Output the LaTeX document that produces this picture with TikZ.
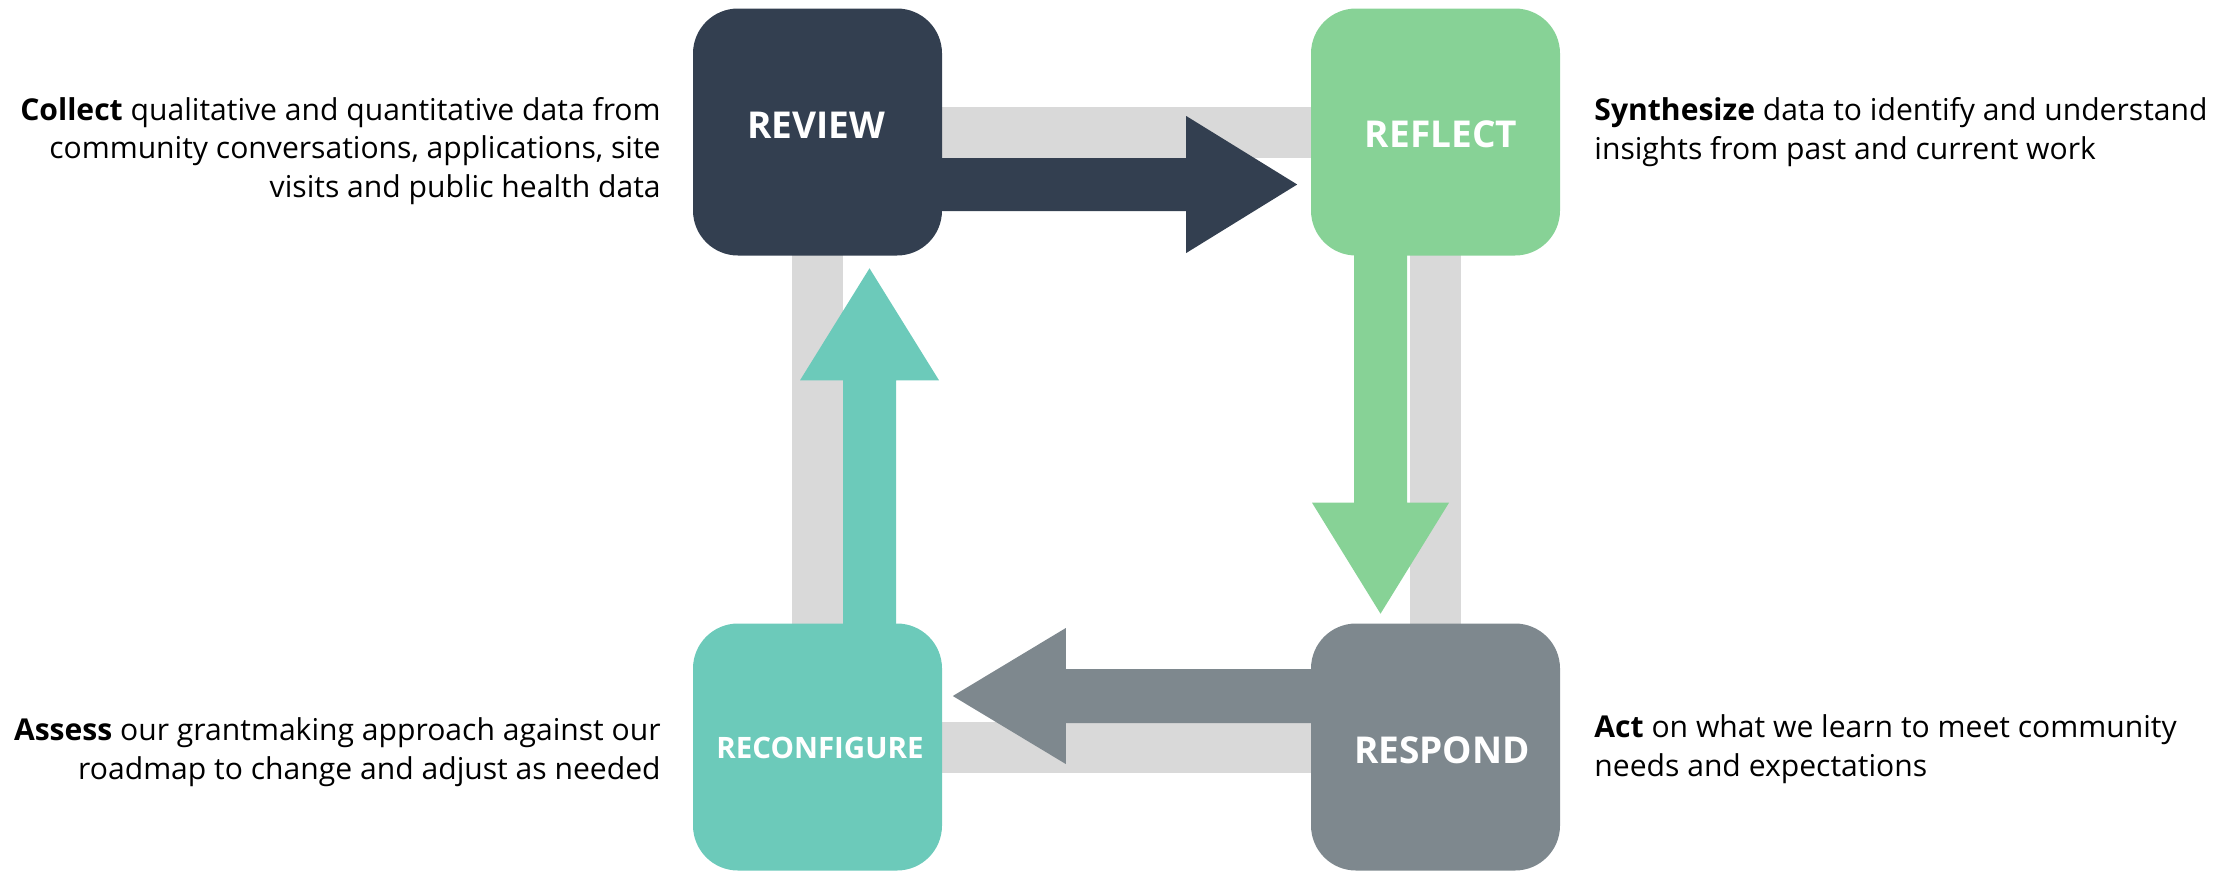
\documentclass[tikz,border=0pt]{standalone}
\usepackage{fontspec}
\setmainfont{Open Sans}
\usetikzlibrary{calc}
\definecolor{navy}{HTML}{333F50}
\definecolor{leaf}{HTML}{87D296}
\definecolor{slate}{HTML}{7E888E}
\definecolor{aqua}{HTML}{6CCABA}
\definecolor{ringgray}{HTML}{D9D9D9}
\pgfdeclarelayer{back}
\pgfsetlayers{back,main}
\begin{document}
\begin{tikzpicture}[x=1pt,y=-1pt,
  box/.style={rounded corners=45pt, minimum width=249pt, minimum height=247pt, inner sep=0pt, draw=none},
  lbl/.style={text=white, inner sep=0pt, font=\bfseries\fontsize{37}{40}\selectfont},
  smalllbl/.style={text=white, inner sep=0pt, font=\bfseries\fontsize{29.5}{32}\selectfont},
  desc/.style={text=black, inner sep=0pt, font=\fontsize{30.1}{38.5}\selectfont},
  ring/.style={line width=51pt, draw=ringgray, line join=miter}]
\useasboundingbox (0,0) rectangle (2234,871);

% boxes
\node[box, fill=navy]  (review)  at (817.5,132)   {};
\node[box, fill=leaf]  (reflect) at (1435.5,132)  {};
\node[box, fill=slate] (respond) at (1435.5,747)  {};
\node[box, fill=aqua]  (reconf)  at (817.5,747)   {};

% box labels
\node[lbl]      (lreview)  at ($(review.center)+(-1.5,-7)$)  {REVIEW};
\node[lbl]      (lreflect) at ($(reflect.center)+(5.5,2)$)   {REFLECT};
\node[lbl]      (lrespond) at ($(respond.center)+(6.5,3)$)   {RESPOND};
\node[smalllbl] (lreconf)  at ($(reconf.center)+(2.5,1)$)    {RECONFIGURE};

\begin{pgfonlayer}{back}
  % grey ring
  \draw[ring] (review.center) -- (reflect.center) -- (respond.center) -- (reconf.center) -- cycle;
  % REVIEW -> REFLECT
  \fill[navy] ($(review.east)+(-4,26)$) -- ++(248,0) -- ++(0,-42) -- ++(111,68.5) -- ++(-111,68.5) -- ++(0,-42) -- ++(-248,0) -- cycle;
  % REFLECT -> RESPOND
  \fill[leaf] ($(reflect.south)+(-81.5,-4)$) -- ++(0,251) -- ++(-42,0) -- ++(68.5,111) -- ++(68.5,-111) -- ++(-42,0) -- ++(0,-251) -- cycle;
  % RESPOND -> RECONFIGURE
  \fill[slate] ($(respond.west)+(4,-78)$) -- ++(-249,0) -- ++(0,-41) -- ++(-113,68) -- ++(113,68) -- ++(0,-41) -- ++(249,0) -- cycle;
  % RECONFIGURE -> REVIEW
  \fill[aqua] ($(reconf.north)+(25.5,4)$) -- ++(0,-247) -- ++(-43,0) -- ++(69.5,-112) -- ++(69.5,112) -- ++(-43,0) -- ++(0,247) -- cycle;
\end{pgfonlayer}

% descriptions
\node[desc, anchor=east, align=right] (dreview) at ($(review.west)+(-32,19)$)
  {\textbf{Collect} qualitative and quantitative data from\\community conversations, applications, site\\visits and public health data};
\node[desc, anchor=west, align=left] (dreflect) at ($(reflect.east)+(34,0)$)
  {\textbf{Synthesize} data to identify and understand\\insights from past and current work};
\node[desc, anchor=east, align=right] (dreconf) at ($(reconf.west)+(-32,5)$)
  {\textbf{Assess} our grantmaking approach against our\\roadmap to change and adjust as needed};
\node[desc, anchor=west, align=left] (drespond) at ($(respond.east)+(34,2)$)
  {\textbf{Act} on what we learn to meet community\\needs and expectations};
\end{tikzpicture}
\end{document}
